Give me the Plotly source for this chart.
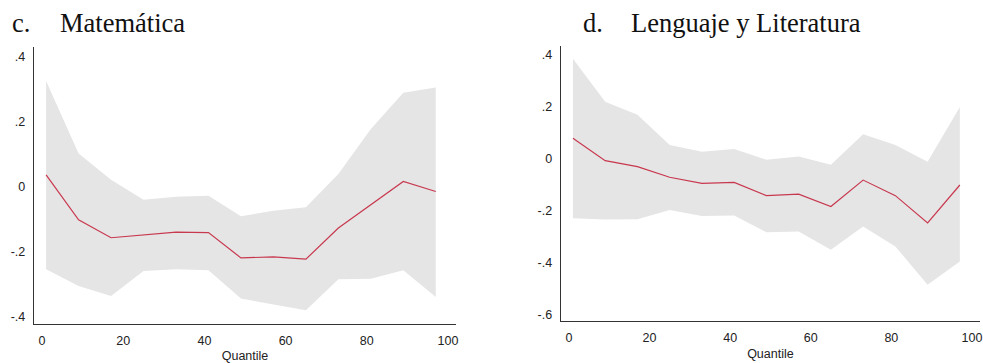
import plotly.graph_objects as go

quantiles = [1, 9, 17, 25, 33, 41, 49, 57, 65, 73, 81, 89, 97]

mat_coef = [0.037, -0.101, -0.156, -0.147, -0.139, -0.140, -0.218, -0.215, -0.222, -0.126, -0.054, 0.017, -0.014]
mat_upper = [0.326, 0.103, 0.022, -0.039, -0.030, -0.027, -0.090, -0.073, -0.062, 0.040, 0.178, 0.290, 0.306]
mat_lower = [-0.253, -0.304, -0.335, -0.258, -0.253, -0.256, -0.343, -0.360, -0.379, -0.284, -0.282, -0.256, -0.338]

len_coef = [0.078, -0.008, -0.031, -0.072, -0.096, -0.092, -0.143, -0.137, -0.185, -0.083, -0.143, -0.248, -0.102]
len_upper = [0.385, 0.219, 0.169, 0.052, 0.026, 0.037, -0.005, 0.008, -0.024, 0.094, 0.052, -0.012, 0.199]
len_lower = [-0.230, -0.235, -0.234, -0.198, -0.222, -0.220, -0.284, -0.281, -0.352, -0.262, -0.339, -0.487, -0.397]

mat_yticks = [-0.4, -0.2, 0, 0.2, 0.4]
mat_yticklabels = ["-.4", "-.2", "0", ".2", ".4"]
len_yticks = [-0.6, -0.4, -0.2, 0, 0.2, 0.4]
len_yticklabels = ["-.6", "-.4", "-.2", "0", ".2", ".4"]
xticks = [0, 20, 40, 60, 80, 100]

W, H = 983, 363
FILL = "#e5e5e5"
LINE = "#c8384f"

fig = go.Figure()

def add_panel(xa, ya, upper, lower, coef):
    fig.add_trace(go.Scatter(x=quantiles, y=lower, mode="lines", line=dict(width=0, color=FILL),
                             xaxis=xa, yaxis=ya, showlegend=False, hoverinfo="skip"))
    fig.add_trace(go.Scatter(x=quantiles, y=upper, mode="lines", line=dict(width=0, color=FILL),
                             fill="tonexty", fillcolor=FILL,
                             xaxis=xa, yaxis=ya, showlegend=False, hoverinfo="skip"))
    fig.add_trace(go.Scatter(x=quantiles, y=coef, mode="lines", line=dict(width=1.2, color=LINE),
                             xaxis=xa, yaxis=ya, showlegend=False))

add_panel("x", "y", mat_upper, mat_lower, mat_coef)
add_panel("x2", "y2", len_upper, len_lower, len_coef)

tickfont = dict(family="Liberation Sans, Arial, sans-serif", size=12.5, color="#222222")
axcommon = dict(showgrid=False, zeroline=False, showline=True, linecolor="#333333", linewidth=1.3,
                ticks="", tickfont=tickfont)

fig.update_layout(
    width=W, height=H,
    margin=dict(l=0, r=0, t=0, b=0),
    paper_bgcolor="white", plot_bgcolor="white",
    xaxis=dict(domain=[34 / W, 457 / W], range=[-2, 102], tickvals=xticks, anchor="y",
               ticklabelstandoff=5,
               title=dict(text="Quantile", font=tickfont, standoff=5), **axcommon),
    yaxis=dict(domain=[1 - 325 / H, 1 - 47 / H], range=[-0.4215, 0.4307], tickvals=mat_yticks,
               ticktext=mat_yticklabels, anchor="x", ticklabelstandoff=5, **axcommon),
    xaxis2=dict(domain=[562 / W, 982 / W], range=[-2, 102], tickvals=xticks, anchor="y2",
                ticklabelstandoff=5,
                title=dict(text="Quantile", font=tickfont, standoff=5), **axcommon),
    yaxis2=dict(domain=[1 - 321.5 / H, 1 - 46 / H], range=[-0.625, 0.4346], tickvals=len_yticks,
                ticktext=len_yticklabels, anchor="x2", ticklabelstandoff=5, **axcommon),
)

titlefont = dict(family="Liberation Serif, Times New Roman, serif", size=26.5, color="#111111")
for txt, xpx in [("c.", 11), ("Matemática", 59), ("d.", 583), ("Lenguaje y Literatura", 631)]:
    fig.add_annotation(text=txt, xref="paper", yref="paper", x=xpx / W, y=1 - 39 / H,
                       xanchor="left", yanchor="bottom", showarrow=False, font=titlefont,
                       borderpad=0)

fig.write_html("out.html")
